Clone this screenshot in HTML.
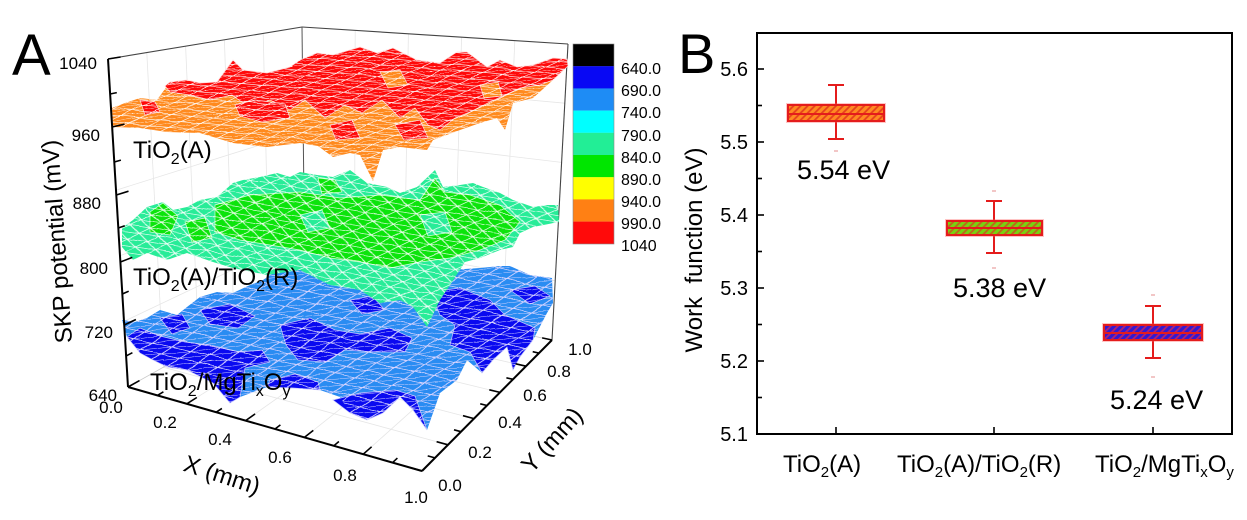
<!DOCTYPE html>
<html><head><meta charset="utf-8">
<style>
html,body{margin:0;padding:0;background:#fff;}
svg{display:block;font-family:"Liberation Sans",Arial,sans-serif;}
</style></head>
<body>
<svg width="1247" height="520" viewBox="0 0 1247 520" xmlns="http://www.w3.org/2000/svg">
<defs>
 <pattern id="h1" patternUnits="userSpaceOnUse" width="5" height="5" patternTransform="rotate(45)">
   <rect width="5" height="5" fill="#ff8a22"/>
   <line x1="1" y1="0" x2="1" y2="5" stroke="#e6401c" stroke-width="1.8"/>
 </pattern>
 <pattern id="h2" patternUnits="userSpaceOnUse" width="5" height="5" patternTransform="rotate(45)">
   <rect width="5" height="5" fill="#78d210"/>
   <line x1="1" y1="0" x2="1" y2="5" stroke="#c0641a" stroke-width="1.8"/>
 </pattern>
 <pattern id="h3" patternUnits="userSpaceOnUse" width="5" height="5" patternTransform="rotate(45)">
   <rect width="5" height="5" fill="#3418d0"/>
   <line x1="1" y1="0" x2="1" y2="5" stroke="#b42070" stroke-width="1.8"/>
 </pattern>

 <pattern id="mr" patternUnits="userSpaceOnUse" width="14" height="14" patternTransform="matrix(1.45,0.1318,0.826,-0.3753,124.25,119.65)">
  <path d="M0 7H14" stroke="#fff" stroke-opacity="0.85" stroke-width="1.5" fill="none"/>
  <path d="M7 0V14" stroke="#fff" stroke-opacity="0.85" stroke-width="1" fill="none"/>
  <path d="M0 0L14 14" stroke="#fff" stroke-opacity="0.85" stroke-width="0.9" fill="none"/>
 </pattern>
 <pattern id="mg" patternUnits="userSpaceOnUse" width="14" height="14" patternTransform="matrix(1.4025,0.2225,0.7975,-0.3775,131.75,242.75)">
  <path d="M0 7H14" stroke="#fff" stroke-opacity="0.85" stroke-width="1.5" fill="none"/>
  <path d="M7 0V14" stroke="#fff" stroke-opacity="0.85" stroke-width="1" fill="none"/>
  <path d="M0 14L14 0" stroke="#fff" stroke-opacity="0.85" stroke-width="0.9" fill="none"/>
 </pattern>
 <pattern id="mb" patternUnits="userSpaceOnUse" width="14" height="14" patternTransform="matrix(1.3685,0.2975,0.7765,-0.5025,137.15,344.25)">
  <path d="M0 7H14" stroke="#d8d4ff" stroke-width="1.2" fill="none"/>
  <path d="M7 0V14" stroke="#d8d4ff" stroke-width="0.9" fill="none"/>
  <path d="M0 0L14 14" stroke="#d8d4ff" stroke-width="0.8" fill="none"/>
 </pattern>
 <filter id="jit" x="-5%" y="-5%" width="110%" height="110%">
  <feTurbulence type="fractalNoise" baseFrequency="0.05" numOctaves="1" seed="4" result="t"/>
  <feDisplacementMap in="SourceGraphic" in2="t" scale="5" xChannelSelector="R" yChannelSelector="G"/>
 </filter>

 <clipPath id="cr"><polygon points="112,108 125,103 140,98 157,100 170,82 187,80 200,83 217,82 233,60 243,70 267,73 290,67 300,60 317,53 333,55 360,47 377,53 393,48 417,60 440,63 457,52 467,52 487,67 500,60 517,67 533,65 553,58 567,59 568,66 553,80 533,98 513,103 505,130 497,118 480,123 460,130 433,140 427,150 400,147 383,150 373,181 360,155 350,153 333,157 318,146 300,143 267,147 233,143 200,133 167,132 140,128 113,127"/></clipPath>
 <clipPath id="cg"><polygon points="122,228 133,220 147,207 163,202 173,210 187,207 200,200 217,197 233,183 243,180 260,177 277,173 290,177 300,172 317,175 333,177 350,170 367,183 387,187 400,193 417,187 435,170 443,187 460,185 473,183 483,187 500,193 513,200 533,207 547,205 558,205 559,222 533,227 520,233 513,247 500,250 480,258 465,262 450,285 440,300 427,327 413,307 400,300 380,303 360,290 330,285 300,270 267,275 233,268 213,262 187,253 167,260 147,253 133,260 122,247"/></clipPath>
 <clipPath id="cb"><polygon points="122,320 135,322 147,318 160,310 177,315 187,307 200,297 217,292 233,293 250,285 263,280 277,270 293,267 320,260 340,262 380,268 420,270 450,270 480,268 500,266 510,266 530,275 552,278 553,303 547,313 533,340 520,357 513,370 507,347 493,360 482,373 467,360 457,380 440,393 427,430 413,410 400,397 383,413 367,420 350,413 340,397 320,390 293,388 267,387 240,397 230,403 213,383 187,370 167,367 153,360 140,353 127,337"/></clipPath>
</defs>
<rect width="1247" height="520" fill="#fff"/>

<!-- ============ Panel A ============ -->
<g stroke="#e6e6e6" stroke-width="0.8" fill="none">
 <line x1="124" y1="321.4" x2="304.4" y2="235.8"/><line x1="304.4" y1="235.8" x2="555.2" y2="280.8"/>
 <line x1="120" y1="255.8" x2="303.8" y2="183.6"/><line x1="303.8" y1="183.6" x2="558.4" y2="221.6"/>
 <line x1="116" y1="190.2" x2="303.2" y2="131.4"/><line x1="303.2" y1="131.4" x2="561.6" y2="162.4"/>
 <line x1="112" y1="124.6" x2="302.6" y2="79.2"/><line x1="302.6" y1="79.2" x2="564.8" y2="103.2"/>
 <line x1="163.4" y1="367.2" x2="146.8" y2="52.6"/>
 <line x1="198.8" y1="347.4" x2="185.6" y2="46.2"/>
 <line x1="234.2" y1="327.6" x2="224.4" y2="39.8"/>
 <line x1="269.6" y1="307.8" x2="263.2" y2="33.4"/>
 <line x1="354.4" y1="298.4" x2="355.2" y2="30.4"/>
 <line x1="403.8" y1="308.8" x2="408.4" y2="33.8"/>
 <line x1="453.2" y1="319.2" x2="461.6" y2="37.2"/>
 <line x1="502.6" y1="329.6" x2="514.8" y2="40.6"/>
 <line x1="186.8" y1="403.8" x2="354.4" y2="298.4"/>
 <line x1="245.6" y1="420.6" x2="403.8" y2="308.8"/>
 <line x1="304.4" y1="437.4" x2="453.2" y2="319.2"/>
 <line x1="363.2" y1="454.2" x2="502.6" y2="329.6"/>
 <line x1="163.4" y1="367.2" x2="448" y2="444.8"/>
 <line x1="198.8" y1="347.4" x2="474" y2="418.6"/>
 <line x1="234.2" y1="327.6" x2="500" y2="392.4"/>
 <line x1="269.6" y1="307.8" x2="526" y2="366.2"/>
</g>
<g fill="none">
 <line x1="128" y1="387" x2="305" y2="288" stroke="#c8c8c8" stroke-width="0.8"/>
 <line x1="305" y1="288" x2="552" y2="340" stroke="#c8c8c8" stroke-width="0.8"/>
 <line x1="108" y1="59" x2="302" y2="27" stroke="#444" stroke-width="1.1"/>
 <line x1="302" y1="27" x2="568" y2="44" stroke="#444" stroke-width="1.1"/>
 <line x1="305" y1="288" x2="302" y2="27" stroke="#555" stroke-width="1"/>
 <line x1="552" y1="340" x2="568" y2="44" stroke="#444" stroke-width="1.1"/>
</g>

<!-- BLUE layer -->
<g>
 <polygon fill="#2a8cf2" points="122,320 135,322 147,318 160,310 177,315 187,307 200,297 217,292 233,293 250,285 263,280 277,270 293,267 320,260 340,262 380,268 420,270 450,270 480,268 500,266 510,266 530,275 552,278 553,303 547,313 533,340 520,357 513,370 507,347 493,360 482,373 467,360 457,380 440,393 427,430 413,410 400,397 383,413 367,420 350,413 340,397 320,390 293,388 267,387 240,397 230,403 213,383 187,370 167,367 153,360 140,353 127,337"/>
 <g fill="#0a0af0" stroke="#c8c8ff" stroke-width="0.7">
  <polygon points="127,337 140,328 160,336 185,342 210,345 240,352 262,350 270,362 245,368 240,397 230,403 213,383 187,370 167,367 153,360 140,353"/>
  <polygon points="280,325 310,318 335,330 360,334 390,328 412,338 405,352 375,352 345,350 325,362 298,360 286,345"/>
  <polygon points="333,400 360,393 395,390 415,396 427,430 413,410 400,397 383,413 367,420 350,413"/>
  <polygon points="430,292 460,288 490,300 505,315 535,328 533,340 520,357 513,370 507,347 493,360 482,373 470,352 450,345 455,325 440,315"/>
  <polygon points="200,310 230,304 255,316 238,328 210,324"/>
  <polygon points="160,318 182,314 190,328 172,334"/>
  <polygon points="270,380 295,374 318,382 320,390 293,388 267,387"/>
  <polygon points="510,290 535,286 550,296 530,304"/>
  <polygon points="350,300 372,296 385,310 362,314"/>
 </g>
 <g clip-path="url(#cb)"><rect x="110" y="250" width="460" height="190" fill="url(#mb)" filter="url(#jit)"/></g>
</g>

<!-- GREEN layer -->
<g>
 <polygon fill="#28ec98" points="122,228 133,220 147,207 163,202 173,210 187,207 200,200 217,197 233,183 243,180 260,177 277,173 290,177 300,172 317,175 333,177 350,170 367,183 387,187 400,193 417,187 435,170 443,187 460,185 473,183 483,187 500,193 513,200 533,207 547,205 558,205 559,222 533,227 520,233 513,247 500,250 480,258 465,262 450,285 440,300 427,327 413,307 400,300 380,303 360,290 330,285 300,270 267,275 233,268 213,262 187,253 167,260 147,253 133,260 122,247"/>
 <g fill="#0ce40c" stroke="#d8ffd8" stroke-width="0.7">
  <polygon points="215,205 250,195 300,192 340,198 380,195 420,200 435,178 445,192 470,195 500,205 520,222 505,240 480,250 450,258 420,262 390,268 360,262 330,258 300,250 270,245 240,240 215,232"/>
  <polygon points="150,212 163,203 178,216 170,235 150,232"/>
  <polygon points="185,222 205,218 212,238 192,242"/>
  <polygon points="318,178 335,180 342,192 322,194"/>
 </g>
 <g fill="#28ec98" stroke="#d8ffd8" stroke-width="0.7">
  <polygon points="300,215 322,210 330,228 308,232"/>
  <polygon points="420,215 445,212 452,232 428,236"/>
 </g>
 <g clip-path="url(#cg)"><rect x="110" y="160" width="460" height="175" fill="url(#mg)" filter="url(#jit)"/></g>
</g>

<!-- RED layer -->
<g>
 <polygon fill="#ff8a1e" points="112,108 125,103 140,98 157,100 170,82 187,80 200,83 217,82 233,60 243,70 267,73 290,67 300,60 317,53 333,55 360,47 377,53 393,48 417,60 440,63 457,52 467,52 487,67 500,60 517,67 533,65 553,58 567,59 568,66 553,80 533,98 513,103 505,130 497,118 480,123 460,130 433,140 427,150 400,147 383,150 373,181 360,155 350,153 333,157 318,146 300,143 267,147 233,143 200,133 167,132 140,128 113,127"/>
 <g fill="#ff0a0a" stroke="#ffd8d8" stroke-width="0.7">
  <polygon points="165,86 170,82 187,80 200,83 217,82 233,60 243,70 267,73 290,67 300,60 317,53 333,55 360,47 377,53 393,48 417,60 440,63 457,52 467,52 487,67 500,60 517,67 533,65 553,58 567,59 568,66 553,80 540,85 520,88 505,95 490,102 470,112 455,118 440,130 428,125 415,108 400,118 382,100 362,113 345,105 325,118 305,100 290,110 270,100 250,108 232,95 210,100 190,95 170,92"/>
  <polygon points="235,105 255,100 285,104 290,118 262,122 240,116"/>
  <polygon points="140,100 155,102 160,112 145,115"/>
  <polygon points="330,125 352,120 360,138 336,140"/>
  <polygon points="395,125 420,120 428,138 404,140"/>
 </g>
 <g fill="#ff8a1e" stroke="#ffd8d8" stroke-width="0.7">
  <polygon points="380,72 400,70 408,85 388,88"/>
  <polygon points="480,85 498,82 502,96 484,98"/>
 </g>
 <g clip-path="url(#cr)"><rect x="105" y="40" width="470" height="150" fill="url(#mr)" filter="url(#jit)"/></g>
</g>

<!-- axes -->
<g stroke="#000" stroke-width="2" fill="none">
 <line x1="128" y1="387" x2="108" y2="59"/>
 <line x1="128" y1="387" x2="422" y2="471"/>
 <line x1="422" y1="471" x2="552" y2="340"/>
</g>
<g stroke="#000" stroke-width="1.6" fill="none">
 <line x1="128" y1="387" x2="139.5" y2="380.6"/>
 <line x1="126.1" y1="356" x2="132.4" y2="352.7"/>
 <line x1="124.2" y1="325" x2="135.9" y2="319.5"/>
 <line x1="122.3" y1="294" x2="128.7" y2="291.2"/>
 <line x1="120.4" y1="262" x2="132.3" y2="257.4"/>
 <line x1="118.3" y1="228" x2="124.8" y2="225.7"/>
 <line x1="116.3" y1="195" x2="128.5" y2="191.2"/>
 <line x1="114.3" y1="162" x2="120.9" y2="160.1"/>
 <line x1="112.1" y1="127" x2="124.5" y2="124.1"/>
 <line x1="110.1" y1="94" x2="116.8" y2="92.6"/>
 <line x1="108" y1="59" x2="120.6" y2="57"/>

 <line x1="157.4" y1="395.4" x2="163.4" y2="391.8"/>
 <line x1="186.8" y1="403.8" x2="196.8" y2="397.5"/>
 <line x1="216.2" y1="412.2" x2="221.9" y2="408.4"/>
 <line x1="245.6" y1="420.6" x2="255.1" y2="413.9"/>
 <line x1="275" y1="429" x2="280.4" y2="424.9"/>
 <line x1="304.4" y1="437.4" x2="313.3" y2="430.4"/>
 <line x1="333.8" y1="445.8" x2="338.9" y2="441.5"/>
 <line x1="363.2" y1="454.2" x2="371.6" y2="446.8"/>
 <line x1="392.6" y1="462.6" x2="397.4" y2="458.1"/>
 <line x1="422" y1="471" x2="429.8" y2="463.2"/>

 <line x1="422" y1="471" x2="410.2" y2="467.6"/>
 <line x1="435" y1="457.9" x2="427.7" y2="455.9"/>
 <line x1="448" y1="444.8" x2="436.6" y2="441.7"/>
 <line x1="461" y1="431.7" x2="454" y2="429.8"/>
 <line x1="474" y1="418.6" x2="463" y2="415.7"/>
 <line x1="487" y1="405.5" x2="480.2" y2="403.8"/>
 <line x1="500" y1="392.4" x2="489.3" y2="389.8"/>
 <line x1="513" y1="379.3" x2="506.4" y2="377.8"/>
 <line x1="526" y1="366.2" x2="515.7" y2="363.8"/>
 <line x1="539" y1="353.1" x2="532.7" y2="351.7"/>
 <line x1="552" y1="340" x2="542.1" y2="337.9"/>
</g>

<g font-size="17" fill="#000" text-anchor="end">
 <text x="97" y="69">1040</text>
 <text x="100" y="141">960</text>
 <text x="101" y="209">880</text>
 <text x="108" y="274">800</text>
 <text x="113" y="338">720</text>
 <text x="117" y="401">640</text>
</g>
<g font-size="17" fill="#000" text-anchor="middle">
 <text x="111" y="413">0.0</text>
 <text x="165" y="428">0.2</text>
 <text x="220" y="445">0.4</text>
 <text x="280" y="463">0.6</text>
 <text x="345" y="481">0.8</text>
 <text x="416" y="503">1.0</text>
 <text x="450" y="491">0.0</text>
 <text x="480" y="458">0.2</text>
 <text x="510" y="428">0.4</text>
 <text x="535" y="401">0.6</text>
 <text x="559" y="377">0.8</text>
 <text x="580" y="355">1.0</text>
</g>
<text transform="translate(65,241) rotate(-94)" font-size="24" text-anchor="middle">SKP potential (mV)</text>
<text transform="translate(222,475) rotate(18)" y="8" font-size="24" text-anchor="middle">X (mm)</text>
<text transform="translate(552,440) rotate(-48)" y="8" font-size="24" text-anchor="middle">Y (mm)</text>

<text x="12" y="75" font-size="58">A</text>

<g font-size="24" fill="#000">
 <text x="133" y="158">TiO<tspan font-size="16" dy="6">2</tspan><tspan dy="-6">(A)</tspan></text>
 <text x="133" y="285">TiO<tspan font-size="16" dy="6">2</tspan><tspan dy="-6">(A)/TiO</tspan><tspan font-size="16" dy="6">2</tspan><tspan dy="-6">(R)</tspan></text>
 <text x="150" y="390">TiO<tspan font-size="16" dy="6">2</tspan><tspan dy="-6">/MgTi</tspan><tspan font-size="16" dy="6">x</tspan><tspan dy="-6">O</tspan><tspan font-size="16" dy="6">y</tspan></text>
</g>

<!-- colorbar -->
<g stroke="none">
 <rect x="573" y="44" width="41" height="22.3" fill="#000000"/>
 <rect x="573" y="66.2" width="41" height="22.3" fill="#0808f4"/>
 <rect x="573" y="88.4" width="41" height="22.3" fill="#1e8cf5"/>
 <rect x="573" y="110.6" width="41" height="22.3" fill="#00ffff"/>
 <rect x="573" y="132.8" width="41" height="22.3" fill="#22ee96"/>
 <rect x="573" y="155" width="41" height="22.3" fill="#00e600"/>
 <rect x="573" y="177.2" width="41" height="22.3" fill="#ffff00"/>
 <rect x="573" y="199.4" width="41" height="22.3" fill="#ff8014"/>
 <rect x="573" y="221.6" width="41" height="22.4" fill="#ff0a0a"/>
 <rect x="573" y="44" width="41" height="200" fill="none" stroke="#888" stroke-width="0.6"/>
</g>
<g font-size="16" fill="#000">
 <text x="621" y="74">640.0</text>
 <text x="621" y="96">690.0</text>
 <text x="621" y="118">740.0</text>
 <text x="621" y="141">790.0</text>
 <text x="621" y="163">840.0</text>
 <text x="621" y="185">890.0</text>
 <text x="621" y="207">940.0</text>
 <text x="621" y="229">990.0</text>
 <text x="621" y="251">1040</text>
</g>

<!-- ============ Panel B ============ -->
<text x="678" y="73" font-size="56">B</text>
<rect x="757" y="33" width="475" height="401" fill="none" stroke="#000" stroke-width="2"/>
<g stroke="#000" stroke-width="1.6">
 <line x1="757" y1="69" x2="764" y2="69"/>
 <line x1="757" y1="142" x2="764" y2="142"/>
 <line x1="757" y1="215" x2="764" y2="215"/>
 <line x1="757" y1="288" x2="764" y2="288"/>
 <line x1="757" y1="361" x2="764" y2="361"/>
 <line x1="757" y1="105.5" x2="762" y2="105.5"/>
 <line x1="757" y1="178.5" x2="762" y2="178.5"/>
 <line x1="757" y1="251.5" x2="762" y2="251.5"/>
 <line x1="757" y1="324.5" x2="762" y2="324.5"/>
 <line x1="757" y1="397.5" x2="762" y2="397.5"/>
 <line x1="836" y1="434" x2="836" y2="427"/>
 <line x1="994" y1="434" x2="994" y2="427"/>
 <line x1="1153" y1="434" x2="1153" y2="427"/>
</g>
<g font-size="20" fill="#000" text-anchor="end">
 <text x="748" y="76">5.6</text>
 <text x="748" y="149">5.5</text>
 <text x="748" y="222">5.4</text>
 <text x="748" y="295">5.3</text>
 <text x="748" y="368">5.2</text>
 <text x="748" y="441">5.1</text>
</g>
<text transform="translate(702,250) rotate(-90)" font-size="24" text-anchor="middle">Work&#160; function (eV)</text>
<g font-size="24" fill="#000">
 <text x="783" y="472">TiO<tspan font-size="15" dy="5">2</tspan><tspan dy="-5">(A)</tspan></text>
 <text x="897" y="472">TiO<tspan font-size="15" dy="5">2</tspan><tspan dy="-5">(A)/TiO</tspan><tspan font-size="15" dy="5">2</tspan><tspan dy="-5">(R)</tspan></text>
 <text x="1095" y="472">TiO<tspan font-size="15" dy="5">2</tspan><tspan dy="-5">/MgTi</tspan><tspan font-size="15" dy="5">x</tspan><tspan dy="-5">O</tspan><tspan font-size="15" dy="5">y</tspan></text>
</g>

<g stroke="#e41c1c" stroke-width="2" fill="none">
 <line x1="836" y1="85" x2="836" y2="139"/>
 <line x1="828" y1="85" x2="844" y2="85"/>
 <line x1="828" y1="139" x2="844" y2="139"/>
 <rect x="788" y="105" width="96" height="16" fill="url(#h1)" stroke="rgba(255,90,90,0.35)" stroke-width="4"/>
 <rect x="788" y="105" width="96" height="16" fill="url(#h1)"/>
 <line x1="788" y1="114" x2="884" y2="114"/>

 <line x1="994" y1="201" x2="994" y2="253"/>
 <line x1="986" y1="201" x2="1002" y2="201"/>
 <line x1="986" y1="253" x2="1002" y2="253"/>
 <rect x="947" y="221" width="95" height="14" fill="url(#h2)" stroke="rgba(255,90,90,0.35)" stroke-width="4"/>
 <rect x="947" y="221" width="95" height="14" fill="url(#h2)"/>
 <line x1="947" y1="228" x2="1042" y2="228"/>

 <line x1="1153" y1="306" x2="1153" y2="358"/>
 <line x1="1145" y1="306" x2="1161" y2="306"/>
 <line x1="1145" y1="358" x2="1161" y2="358"/>
 <rect x="1104" y="325" width="98" height="15" fill="url(#h3)" stroke="rgba(255,90,90,0.35)" stroke-width="4"/>
 <rect x="1104" y="325" width="98" height="15" fill="url(#h3)"/>
 <line x1="1104" y1="333" x2="1202" y2="333"/>
</g>
<g stroke="#e8a0a0" stroke-width="1.2">
 <line x1="834" y1="151" x2="838" y2="151"/>
 <line x1="992" y1="191" x2="996" y2="191"/>
 <line x1="992" y1="268" x2="996" y2="268"/>
 <line x1="1151" y1="295" x2="1155" y2="295"/>
 <line x1="1151" y1="377" x2="1155" y2="377"/>
</g>
<g font-size="27" fill="#000">
 <text x="797" y="179">5.54 eV</text>
 <text x="953" y="297">5.38 eV</text>
 <text x="1110" y="409">5.24 eV</text>
</g>
</svg>
</body></html>
